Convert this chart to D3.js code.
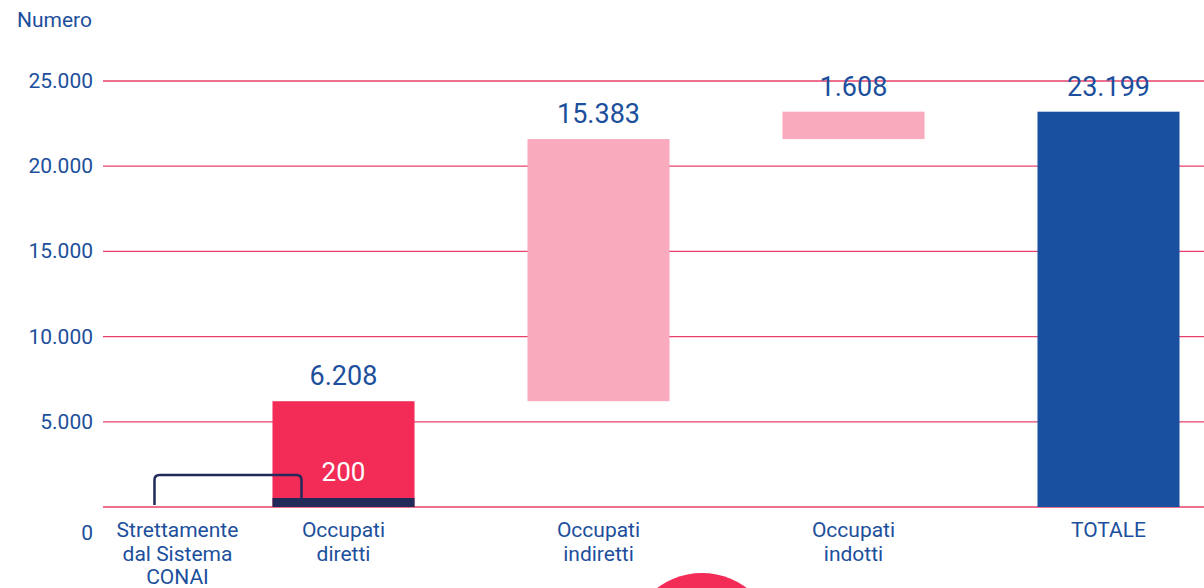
<!DOCTYPE html>
<html>
<head>
<meta charset="utf-8">
<script src="https://cdn.jsdelivr.net/npm/d3@7"></script>
<style>
  body { margin: 0; background: #fff; }
  text { font-family: Roboto, "Noto Sans", sans-serif; }
</style>
</head>
<body>
<script>
// data
var categories = ['Occupati diretti', 'Occupati indiretti', 'Occupati indotti', 'TOTALE'];
var values = [6208, 15383, 1608, 23199];
var isTotal = [false, false, false, true];
var strettamente = 200; // part of "Occupati diretti" strictly from the CONAI system
var strettLabel = ['Strettamente', 'dal Sistema', 'CONAI'];
var yTicks = [0, 5000, 10000, 15000, 20000, 25000];

var width = 1204, height = 588;
var blue = '#1c4f9c', grid = '#e8406a';
var barColors = ['#f22c57', '#f9aabd', '#f9aabd', '#1a50a0'];

var fmt = function(v) { return d3.format(',')(v).replace(/,/g, '.'); };

var svg = d3.select('body').append('svg').attr('width', width).attr('height', height);

var y = d3.scaleLinear().domain([0, 25000]).range([507, 81]);
var x = d3.scaleBand().domain(categories).range([216, 1236]).paddingInner(0.443).paddingOuter(0.2215);

// waterfall bases
var run = 0;
var bars = categories.map(function(c, i) {
  var base = isTotal[i] ? 0 : run;
  if (!isTotal[i]) run += values[i];
  return { cat: c, base: base, top: base + values[i], value: values[i], color: barColors[i] };
});

// gridlines
svg.append('g').selectAll('line').data(yTicks).enter().append('line')
  .attr('x1', 103).attr('x2', width)
  .attr('y1', d => y(d)).attr('y2', d => y(d))
  .attr('stroke', grid).attr('stroke-width', 1.3);

// y tick labels (0 sits on the category-label row)
svg.append('g').selectAll('text').data(yTicks).enter().append('text')
  .attr('x', 93).attr('y', d => d === 0 ? y(d) + 33 : y(d) + 7)
  .attr('text-anchor', 'end').attr('fill', blue).attr('font-size', '21px')
  .text(d => fmt(d));

svg.append('text').text('Numero').attr('x', 17).attr('y', 27)
  .attr('fill', blue).attr('font-size', '21px');

// bars
svg.append('g').selectAll('rect').data(bars).enter().append('rect')
  .attr('x', d => x(d.cat)).attr('width', x.bandwidth())
  .attr('y', d => y(d.top)).attr('height', d => y(d.base) - y(d.top))
  .attr('fill', d => d.color);

// value labels
svg.append('g').selectAll('text').data(bars).enter().append('text')
  .attr('x', d => x(d.cat) + x.bandwidth() / 2).attr('y', d => y(d.top) - 16)
  .attr('text-anchor', 'middle').attr('fill', blue).attr('font-size', '27px')
  .text(d => fmt(d.value));

// dark base of the first bar (kept visible at a minimum thickness)
var subH = Math.max(9, y(0) - y(strettamente));
var x0 = x(categories[0]);
svg.append('rect').attr('x', x0).attr('width', x.bandwidth())
  .attr('y', y(0) - subH).attr('height', subH).attr('fill', '#222a5a');
svg.append('text').text(fmt(strettamente))
  .attr('x', x0 + x.bandwidth() / 2).attr('y', y(0) - subH - 17)
  .attr('text-anchor', 'middle').attr('fill', '#fff').attr('font-size', '26px');

// bracket linking the dark base to its label
var bl = x0 - 118, br = x0 + 29, bt = y(0) - 32, r = 5;
svg.append('path')
  .attr('d', 'M' + bl + ',' + (y(0) - 2) + 'V' + (bt + r) + 'Q' + bl + ',' + bt + ' ' + (bl + r) + ',' + bt +
    'H' + (br - r) + 'Q' + br + ',' + bt + ' ' + br + ',' + (bt + r) + 'V' + (y(0) - subH))
  .attr('fill', 'none').attr('stroke', '#222a5a').attr('stroke-width', 2.5);

// category labels
var catLines = categories.map(c => c === 'TOTALE' ? ['TOTALE'] : c.split(' '));
var lab = svg.append('g').attr('fill', blue).attr('font-size', '21px').attr('text-anchor', 'middle');
categories.forEach(function(c, i) {
  var t = lab.append('text').attr('x', x(c) + x.bandwidth() / 2).attr('y', y(0) + 30);
  catLines[i].forEach((l, j) => t.append('tspan').attr('x', x(c) + x.bandwidth() / 2).attr('dy', j ? 23.5 : 0).text(l));
});
var st = lab.append('text').attr('x', bl + 23).attr('y', y(0) + 30);
strettLabel.forEach((l, j) => st.append('tspan').attr('x', bl + 23).attr('dy', j ? 23.5 : 0).text(l));

// decorative circle at the bottom
svg.append('circle').attr('cx', 702).attr('cy', 648).attr('r', 75).attr('fill', '#f22c57');
</script>
</body>
</html>
